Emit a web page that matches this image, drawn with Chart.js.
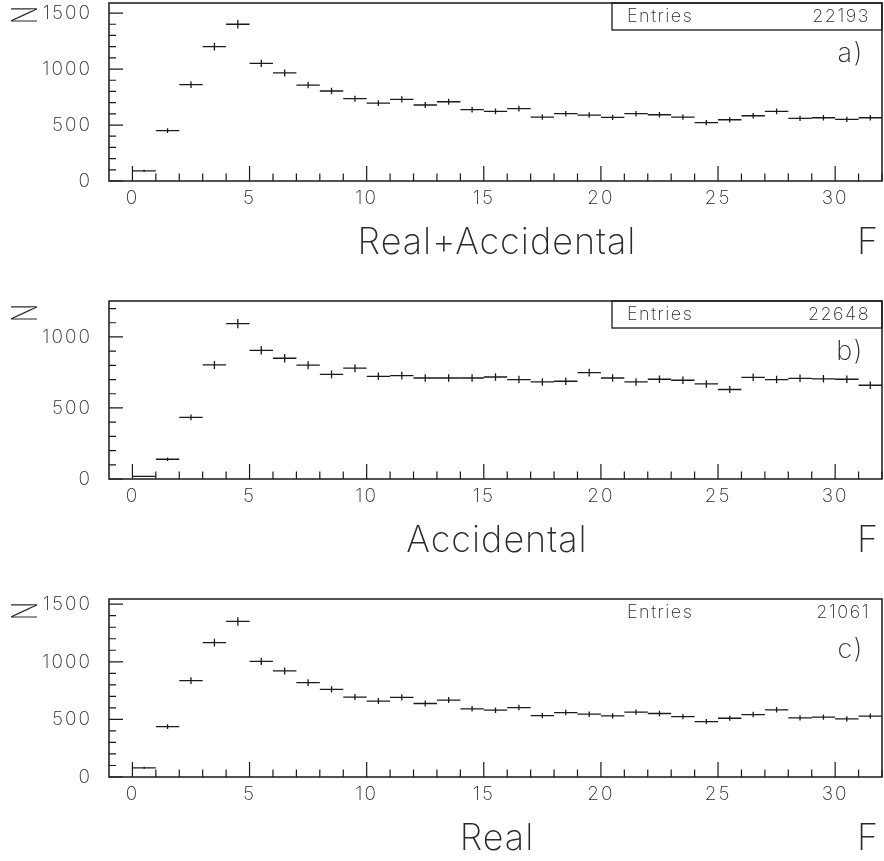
<!DOCTYPE html>
<html>
<head>
<meta charset="UTF-8" />
<script src="https://cdn.jsdelivr.net/npm/chart.js@4"></script>
<style>
  html, body { margin: 0; padding: 0; background: #fff; overflow: hidden; }
  .panel { position: absolute; left: 0; width: 884px; height: 265px; }
</style>
</head>
<body>
<div class="panel" style="top:0px"><canvas id="chartA"></canvas></div>
<div class="panel" style="top:298px"><canvas id="chartB"></canvas></div>
<div class="panel" style="top:596px"><canvas id="chartC"></canvas></div>

<script>
// bin i runs from i to i+1
const binCount = 32;
const xTickValues = [0, 5, 10, 15, 20, 25, 30];

const realAccidental = [90, 450, 860, 1200, 1400, 1050, 965, 857, 804, 735, 696, 729, 679, 708, 637, 622,
  646, 571, 601, 589, 569, 601, 592, 571, 521, 547, 583, 622, 560, 565, 551, 565];
const accidental = [19, 139, 434, 803, 1094, 906, 850, 801, 737, 780, 723, 728, 711, 711, 711, 718,
  700, 683, 688, 749, 711, 683, 702, 695, 669, 630, 716, 700, 709, 705, 702, 660];
const real = [79, 437, 837, 1166, 1350, 1003, 921, 819, 761, 694, 659, 691, 638, 668, 592, 580,
  603, 533, 559, 545, 531, 563, 551, 524, 481, 510, 542, 583, 513, 519, 504, 528];

const yTicksA = [0, 500, 1000, 1500];
const yTicksB = [0, 500, 1000];
const yTicksC = [0, 500, 1000, 1500];

const FONT = 'Inter, "DejaVu Sans", sans-serif';
const INK = '#1a1a1a';
const TXT = '#2a2a2a';

// histogram markers + frame + inner ticks + labels
const histoPlugin = {
  id: 'histo',
  beforeUpdate(chart) { chart.ctx.letterSpacing = '2px'; },
  beforeDraw(chart) { chart.ctx.letterSpacing = '2px'; },
  afterDatasetsDraw(chart, args, opts) {
    const ctx = chart.ctx;
    const xs = chart.scales.x, ys = chart.scales.y;
    const area = chart.chartArea;
    const vals = chart.data.datasets[0].data;
    ctx.save();
    ctx.strokeStyle = INK;
    ctx.lineWidth = 1.3;
    vals.forEach((v, i) => {
      const x0 = xs.getPixelForValue(i), x1 = xs.getPixelForValue(i + 1);
      const xc = xs.getPixelForValue(i + 0.5);
      const y = ys.getPixelForValue(v);
      const err = Math.sqrt(v);
      ctx.beginPath();
      ctx.moveTo(x0, y); ctx.lineTo(x1, y);
      ctx.moveTo(xc, ys.getPixelForValue(v - err)); ctx.lineTo(xc, ys.getPixelForValue(v + err));
      ctx.stroke();
    });

    // frame
    ctx.lineWidth = 1.5;
    ctx.strokeRect(area.left, area.top, area.right - area.left, area.bottom - area.top);

    // ticks drawn inside the frame
    ctx.lineWidth = 1.2;
    ctx.beginPath();
    for (let v = 0; v <= ys.max; v += 100) {
      const y = ys.getPixelForValue(v);
      const len = v % 500 === 0 ? 14 : 7;
      ctx.moveTo(area.left, y); ctx.lineTo(area.left + len, y);
    }
    for (let v = 0; v <= binCount; v += 1) {
      const x = xs.getPixelForValue(v);
      const len = v % 5 === 0 ? 15 : 7.5;
      ctx.moveTo(x, area.bottom); ctx.lineTo(x, area.bottom - len);
    }
    ctx.stroke();

    // stats box
    ctx.fillStyle = TXT;
    ctx.font = '200 18px ' + FONT;
    ctx.letterSpacing = '1.5px';
    ctx.textBaseline = 'middle';
    if (opts.box) {
      ctx.lineWidth = 1.3;
      ctx.strokeRect(612, area.top, area.right - 612, 27);
    }
    ctx.textAlign = 'left';
    ctx.fillText('Entries', 627, area.top + 14);
    ctx.textAlign = 'right';
    ctx.fillText(opts.entries, 870, area.top + 14);

    // panel tag
    ctx.font = '200 27px ' + FONT;
    ctx.fillText(opts.tag, 864, area.top + 51);

    // axis titles
    ctx.font = '200 36px ' + FONT;
    ctx.letterSpacing = '1px';
    ctx.textAlign = 'center';
    ctx.fillText(opts.title, 497, area.bottom + 62);
    ctx.textAlign = 'right';
    ctx.fillText('F', 879, area.bottom + 62);

    // rotated N
    ctx.save();
    ctx.letterSpacing = '0px';
    ctx.translate(25, area.top + 12);
    ctx.rotate(-Math.PI / 2);
    ctx.scale(0.68, 1);
    ctx.font = '200 35px ' + FONT;
    ctx.textAlign = 'center';
    ctx.fillText('N', 0, 1);
    ctx.restore();

    ctx.restore();
  }
};

function makeChart(id, values, yMax, yTicks, opts) {
  return new Chart(document.getElementById(id), {
    type: 'scatter',
    data: {
      datasets: [{ data: values, pointRadius: 0, showLine: false }]
    },
    options: {
      responsive: true,
      maintainAspectRatio: false,
      animation: false,
      events: [],
      layout: { padding: { top: 3, right: 2, left: 0, bottom: 0 } },
      plugins: { legend: { display: false }, tooltip: { enabled: false }, histo: opts },
      scales: {
        x: {
          type: 'linear', min: -1, max: binCount,
          border: { display: false },
          grid: { display: false, drawTicks: false },
          afterBuildTicks: s => { s.ticks = xTickValues.map(v => ({ value: v })); },
          afterFit: s => { s.height = 84; s.paddingLeft = 0; s.paddingRight = 0; },
          ticks: { color: TXT, font: { family: FONT, size: 19, weight: '200' }, padding: 6, maxRotation: 0, autoSkip: false,
            callback: v => String(v) }
        },
        y: {
          type: 'linear', min: 0, max: yMax,
          border: { display: false },
          grid: { display: false, drawTicks: false },
          afterBuildTicks: s => { s.ticks = yTicks.map(v => ({ value: v })); },
          afterFit: s => { s.width = 109; s.paddingTop = 0; s.paddingBottom = 0; },
          ticks: { color: TXT, font: { family: FONT, size: 19, weight: '200' }, padding: 17,
            callback: v => String(v) }
        }
      }
    },
    plugins: [histoPlugin]
  });
}

makeChart('chartA', realAccidental, 1590, yTicksA, { title: 'Real+Accidental', entries: '22193', tag: 'a)', box: true });
makeChart('chartB', accidental, 1253, yTicksB, { title: 'Accidental', entries: '22648', tag: 'b)', box: true });
makeChart('chartC', real, 1545, yTicksC, { title: 'Real', entries: '21061', tag: 'c)', box: false });
</script>
</body>
</html>
